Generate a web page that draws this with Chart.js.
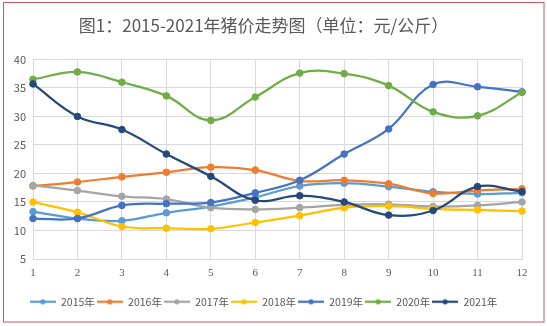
<!DOCTYPE html>
<html>
<head>
<meta charset="utf-8">
<script src="https://cdn.jsdelivr.net/npm/chart.js@4/dist/chart.umd.min.js"></script>
<style>
html,body{margin:0;padding:0;background:#fff;}
#wrap{width:547px;height:326px;position:relative;}
</style>
</head>
<body>
<div id="wrap"><canvas id="c" width="547" height="326"></canvas></div>
<script>
const months = ['1','2','3','4','5','6','7','8','9','10','11','12'];
const seriesNames = ['2015年','2016年','2017年','2018年','2019年','2020年','2021年'];
const s2015 = [13.3, 12.1, 11.7, 13.1, 14.2, 15.8, 17.8, 18.3, 17.7, 16.8, 16.4, 16.6];
const s2016 = [17.8, 18.5, 19.4, 20.2, 21.1, 20.6, 18.7, 18.8, 18.2, 16.5, 17.0, 17.3];
const s2017 = [17.9, 17.0, 16.0, 15.5, 14.0, 13.7, 14.0, 14.5, 14.6, 14.2, 14.4, 15.0];
const s2018 = [15.0, 13.2, 10.7, 10.4, 10.3, 11.4, 12.6, 14.0, 14.3, 13.8, 13.6, 13.4];
const s2019 = [12.1, 12.1, 14.4, 14.7, 14.9, 16.6, 18.8, 23.4, 27.8, 35.6, 35.2, 34.3];
const s2020 = [36.5, 37.8, 36.0, 33.6, 29.3, 33.4, 37.6, 37.5, 35.4, 30.8, 30.1, 34.2];
const s2021 = [35.7, 30.0, 27.7, 23.4, 19.5, 15.3, 16.1, 15.0, 12.7, 13.5, 17.7, 16.8];
const yTicks = [5, 10, 15, 20, 25, 30, 35, 40];

const allSeries = [s2015, s2016, s2017, s2018, s2019, s2020, s2021];
const colors = ['#5B9BD5','#ED7D31','#A5A5A5','#FFC000','#4472C4','#70AD47','#24497A'];

function legendIcon(color){
  const cv = document.createElement('canvas');
  cv.width = 26; cv.height = 8;
  const g = cv.getContext('2d');
  g.strokeStyle = color; g.lineWidth = 2.25;
  g.beginPath(); g.moveTo(0,4); g.lineTo(26,4); g.stroke();
  g.fillStyle = color;
  g.beginPath(); g.arc(13,4,2.6,0,Math.PI*2); g.fill();
  return cv;
}
const icons = colors.map(legendIcon);

const datasets = allSeries.map((d,i)=>({
  label: seriesNames[i],
  data: d,
  borderColor: colors[i],
  backgroundColor: colors[i],
  borderWidth: 2.25,
  pointRadius: 3.3,
  pointBorderWidth: 1,
  pointBorderColor: colors[i],
  pointBackgroundColor: colors[i],
  tension: 0.4,
  fill: false,
  order: allSeries.length - i
}));

const frame = {
  id: 'frame',
  beforeDraw(chart){
    const ctx = chart.ctx;
    ctx.save();
    ctx.fillStyle = '#fff';
    ctx.fillRect(0,0,chart.width,chart.height);
    ctx.strokeStyle = '#CC5563';
    ctx.lineWidth = 1;
    ctx.strokeRect(3.5, 2.5, 540.5, 319.5);
    ctx.restore();
  }
};

new Chart(document.getElementById('c'), {
  type: 'line',
  data: { labels: months, datasets },
  plugins: [frame],
  options: {
    responsive: false,
    animation: false,
    layout: { padding: { left: 5, right: 25, top: 0, bottom: 9 } },
    plugins: {
      title: {
        display: true,
        text: '图1：2015-2021年猪价走势图（单位：元/公斤）',
        color: '#595959',
        font: { family: '"Noto Sans CJK SC", "Noto Sans", sans-serif', size: 17, weight: 'normal' },
        padding: { top: 15, bottom: 24 }
      },
      legend: {
        position: 'bottom',
        labels: {
          color: '#595959',
          font: { family: '"Noto Sans CJK SC", "Noto Sans", sans-serif', size: 10.5 },
          usePointStyle: true,
          pointStyleWidth: 26,
          boxHeight: 8,
          padding: 2,
          generateLabels(chart){
            return chart.data.datasets.map((ds,i)=>({
              text: ds.label,
              fillStyle: ds.borderColor,
              strokeStyle: ds.borderColor,
              fontColor: '#595959',
              lineWidth: 0,
              pointStyle: icons[i],
              hidden: !chart.isDatasetVisible(i),
              datasetIndex: i
            }));
          }
        }
      },
      tooltip: { enabled: false }
    },
    scales: {
      x: {
        offset: false,
        grid: { color: '#D9D9D9', drawTicks: false, lineWidth: 1 },
        border: { color: '#D9D9D9' },
        ticks: {
          color: '#595959',
          padding: 8,
          maxRotation: 0,
          font: { family: '"Liberation Serif", "DejaVu Serif", serif', size: 11 }
        },
        afterFit(scale){ scale.height = 35.5; }
      },
      y: {
        min: 5, max: 40,
        afterBuildTicks(scale){ scale.ticks = yTicks.map(v=>({value:v})); },
        grid: { color: '#D9D9D9', drawTicks: false, lineWidth: 1 },
        border: { color: '#D9D9D9' },
        ticks: {
          color: '#595959',
          padding: 7,
          font: { family: '"Noto Sans CJK SC", "Noto Sans", sans-serif', size: 11 }
        },
        afterFit(scale){ scale.width = 28; }
      }
    }
  }
});
</script>
</body>
</html>
